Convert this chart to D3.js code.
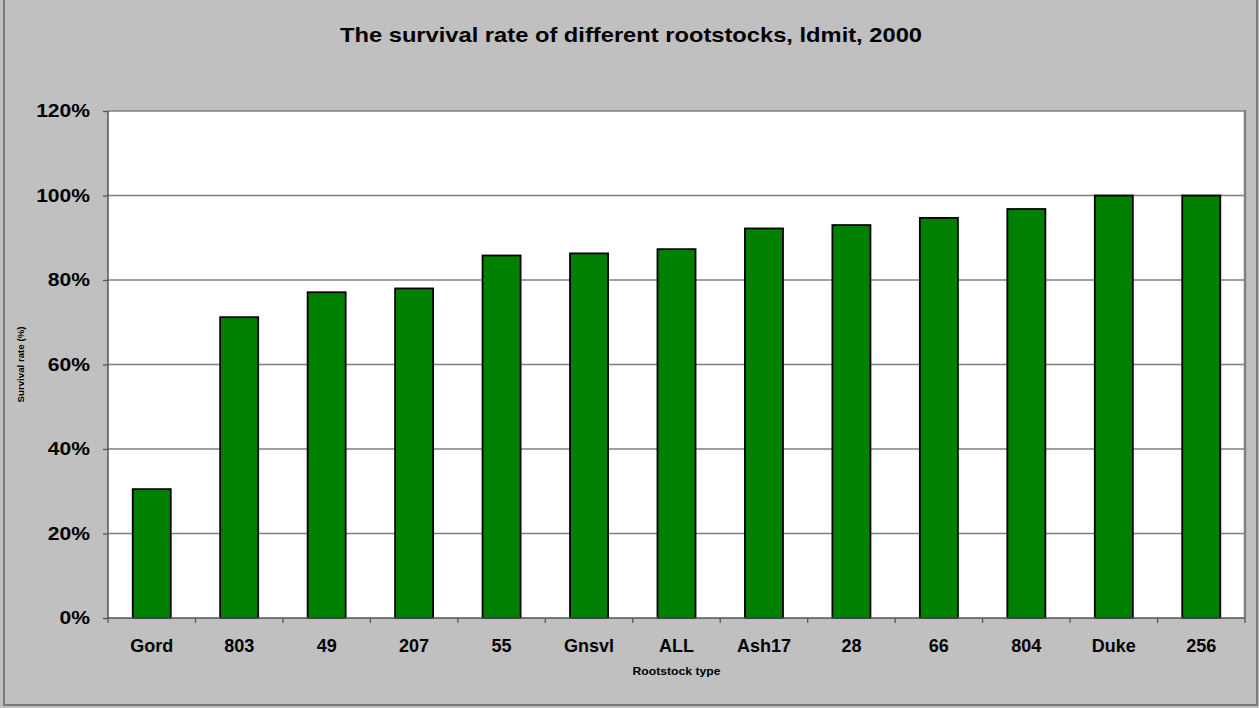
<!DOCTYPE html>
<html>
<head>
<meta charset="utf-8">
<script src="https://cdn.jsdelivr.net/npm/d3@7"></script>
<style>
  html, body { margin: 0; padding: 0; background: #c0c0c0; }
  svg { display: block; }
  text { font-family: "Liberation Sans", Arial, sans-serif; font-weight: bold; fill: #000; }
</style>
</head>
<body>
<svg id="chart" width="1259" height="708"></svg>
<script>
const categories = ["Gord", "803", "49", "207", "55", "Gnsvl", "ALL", "Ash17", "28", "66", "804", "Duke", "256"];
const survival = [0.305, 0.712, 0.771, 0.780, 0.858, 0.863, 0.873, 0.922, 0.930, 0.947, 0.968, 1.0, 1.0];
const yTicks = [0, 0.2, 0.4, 0.6, 0.8, 1.0, 1.2];
const title = "The survival rate of different rootstocks, ldmit, 2000";
const xTitle = "Rootstock type";
const yTitle = "Survival rate (%)";

const svg = d3.select("#chart");
const W = 1259, H = 708;
const plot = { left: 108, top: 111, right: 1245, bottom: 618 };

// chart area background + border
svg.append("rect").attr("x", 0).attr("y", 0).attr("width", W).attr("height", H).attr("fill", "#c0c0c0");
svg.append("rect").attr("x", 4).attr("y", -2).attr("width", W - 6).attr("height", H - 1)
  .attr("fill", "none").attr("stroke", "#7a7a7a").attr("stroke-width", 2);

const x = d3.scaleBand().domain(categories).range([plot.left, plot.right]).paddingInner(0.565).paddingOuter(0.2825);
const xb = d3.scaleBand().domain(categories).range([plot.left, plot.right]);
const y = d3.scaleLinear().domain([0, 1.2]).range([plot.bottom, plot.top]);

// plot area
svg.append("rect").attr("x", plot.left).attr("y", plot.top)
  .attr("width", plot.right - plot.left).attr("height", plot.bottom - plot.top)
  .attr("fill", "#ffffff");

// gridlines
svg.append("g").selectAll("line").data(yTicks.filter(d => d > 0)).join("line")
  .attr("x1", plot.left).attr("x2", plot.right)
  .attr("y1", d => y(d)).attr("y2", d => y(d))
  .attr("stroke", "#808080").attr("stroke-width", 1.3);

// plot border right side
svg.append("line").attr("x1", plot.right).attr("x2", plot.right).attr("y1", plot.top - 1).attr("y2", plot.bottom)
  .attr("stroke", "#808080").attr("stroke-width", 2.5);

// bars
svg.append("g").selectAll("rect").data(categories).join("rect")
  .attr("x", d => x(d))
  .attr("width", x.bandwidth())
  .attr("y", (d, i) => y(survival[i]))
  .attr("height", (d, i) => y(0) - y(survival[i]))
  .attr("fill", "#008000")
  .attr("stroke", "#000")
  .attr("stroke-width", 1.8);

// y axis
const yAxis = d3.axisLeft(y).tickValues(yTicks).tickFormat(d3.format(".0%")).tickSize(5).tickPadding(13);
const gy = svg.append("g").attr("transform", `translate(${plot.left},0)`).call(yAxis);
gy.select(".domain").attr("stroke", "#555").attr("stroke-width", 1.5).attr("d", `M0,${plot.bottom}V${plot.top}`);
gy.selectAll(".tick line").attr("stroke", "#555").attr("stroke-width", 1.3);
gy.selectAll(".tick text").attr("font-size", 18).attr("font-family", null).attr("fill", "#000")
  .each(function() { const w = this.getComputedTextLength(); d3.select(this).attr("textLength", w * 1.17).attr("lengthAdjust", "spacingAndGlyphs"); });

// x axis (ticks at category boundaries)
const gx = svg.append("g").attr("transform", `translate(0,${plot.bottom})`);
gx.append("line").attr("x1", plot.left).attr("x2", plot.right).attr("y1", 0).attr("y2", 0)
  .attr("stroke", "#555").attr("stroke-width", 1.5);
const bounds = categories.map(c => xb(c)).concat([plot.right]);
gx.selectAll("line.tk").data(bounds).join("line").attr("class", "tk")
  .attr("x1", d => d).attr("x2", d => d).attr("y1", 0).attr("y2", 5)
  .attr("stroke", "#555").attr("stroke-width", 1.3);
gx.selectAll("text").data(categories).join("text")
  .attr("x", d => xb(d) + xb.bandwidth() / 2)
  .attr("y", 34)
  .attr("text-anchor", "middle")
  .attr("font-size", 18)
  .text(d => d);

// titles
svg.append("text").attr("x", 631).attr("y", 42).attr("text-anchor", "middle")
  .attr("font-size", 21).attr("textLength", 582).attr("lengthAdjust", "spacingAndGlyphs").text(title);
svg.append("text").attr("x", (plot.left + plot.right) / 2).attr("y", 675).attr("text-anchor", "middle")
  .attr("font-size", 10).attr("textLength", 88).attr("lengthAdjust", "spacingAndGlyphs").text(xTitle);
svg.append("text").attr("transform", `translate(24,${(plot.top + plot.bottom) / 2}) rotate(-90)`)
  .attr("text-anchor", "middle").attr("font-size", 9).attr("font-weight", "normal")
  .attr("textLength", 76).attr("lengthAdjust", "spacingAndGlyphs").text(yTitle);
</script>
</body>
</html>
